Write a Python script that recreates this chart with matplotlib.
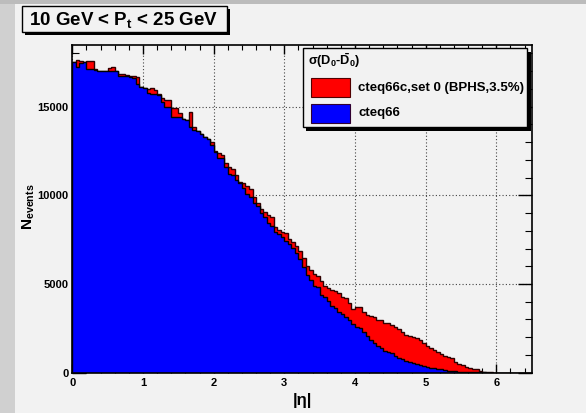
import matplotlib
matplotlib.use('Agg')
import matplotlib.pyplot as plt
import numpy as np
from matplotlib.patches import Rectangle
from matplotlib.ticker import MultipleLocator

plt.rcParams['font.family'] = ['Liberation Sans', 'DejaVu Sans']
plt.rcParams['font.weight'] = 'bold'
plt.rcParams['mathtext.fontset'] = 'custom'
plt.rcParams['mathtext.rm'] = 'Liberation Sans:bold'
plt.rcParams['mathtext.it'] = 'Liberation Sans:bold'
plt.rcParams['mathtext.bf'] = 'Liberation Sans:bold'

# ---- data (|eta| histogram, 130 bins of width 0.05 from 0 to 6.5) ----
eta_min, eta_max, n_bins = 0.0, 6.5, 130

cteq66 = [
    17530, 17250, 17480, 17500, 17120, 17120, 17080, 17020, 17000, 17000,
    17020, 17030, 17020, 16750, 16720, 16700, 16670, 16600, 16260, 16090,
    16060, 15750, 15720, 15700, 15680, 15280, 15000, 14990, 14430, 14420,
    14400, 14300, 14245, 13870, 13680, 13640, 13460, 13270, 13160, 12840,
    12460, 12085, 12085, 11580, 11200, 11145, 10860, 10675, 10400, 10070,
    9890, 9580, 9400, 9020, 8795, 8455, 8270, 7950, 7820, 7665,
    7400, 7250, 7030, 6750, 6400, 5950, 5500, 5200, 4900, 4815,
    4400, 4285, 4040, 3760, 3630, 3440, 3310, 3160, 2970, 2740,
    2590, 2500, 2300, 2050, 1845, 1650, 1530, 1400, 1250, 1180,
    1130, 940, 850, 755, 675, 620, 565, 490, 435, 390,
    340, 280, 250, 220, 190, 150, 120, 100, 80, 65,
    55, 50, 40, 35, 30, 20, 15, 10, 8, 5,
    3, 2, 1, 0, 0, 0, 0, 0, 0, 0,
]

cteq66c = [
    17530, 17630, 17560, 17500, 17590, 17590, 17100, 17020, 17000, 17000,
    17200, 17250, 17020, 16840, 16840, 16780, 16750, 16700, 16650, 16090,
    16060, 15975, 16030, 15950, 15700, 15470, 15370, 15370, 14900, 14900,
    14620, 14300, 14245, 14710, 13870, 13640, 13460, 13270, 13160, 13020,
    12500, 12400, 12270, 11840, 11580, 11465, 11140, 10770, 10675, 10500,
    10340, 9920, 9550, 9250, 9050, 8890, 8795, 8200, 8045, 7950,
    7890, 7520, 7350, 7150, 6850, 6450, 6015, 5790, 5565, 5450,
    5185, 4890, 4760, 4660, 4620, 4475, 4250, 4195, 3910, 3575,
    3720, 3700, 3440, 3250, 3195, 3160, 2990, 2970, 2800, 2785,
    2690, 2595, 2450, 2300, 2125, 2070, 2010, 1930, 1845, 1690,
    1505, 1420, 1300, 1185, 1055, 950, 870, 810, 620, 500,
    435, 340, 250, 220, 190, 115, 55, 35, 20, 10,
    5, 3, 0, 0, 0, 0, 0, 0, 0, 0,
]

title_text = r'10 GeV < P$_{t}$ < 25 GeV'
legend_header = r'σ(D$_{0}$-$\bar{\mathrm{D}}_{0}$)'
label_red = 'cteq66c,set 0 (BPHS,3.5%)'
label_blue = 'cteq66'
xlabel = '|η|'
ylabel = r'N$_{events}$'

W, H = 586, 413
bg = '#f2f2f2'

fig = plt.figure(figsize=(W / 100, H / 100), dpi=100, facecolor=bg)

def fx(x):
    return x / W

def fy(y):
    return 1 - y / H

# outer grey strips
fig.add_artist(Rectangle((0, 0), fx(15), 1, transform=fig.transFigure,
                         facecolor='#d0d0d0', edgecolor='none', zorder=0))
fig.add_artist(Rectangle((0, fy(4)), 1, 4 / H, transform=fig.transFigure,
                         facecolor='#bcbcbc', edgecolor='none', zorder=0))

ax_l, ax_r, ax_t, ax_b = 72.3, 531.7, 44.7, 372.7
ax = fig.add_axes([fx(ax_l), fy(ax_b), (ax_r - ax_l) / W, (ax_b - ax_t) / H])
ax.set_facecolor(bg)

edges = np.linspace(eta_min, eta_max, n_bins + 1)
ax.stairs(cteq66c, edges, fill=True, facecolor='#ff0000', edgecolor='none', zorder=2)
ax.stairs(cteq66c, edges, color='#300000', lw=1.0, zorder=3)
ax.stairs(cteq66, edges, fill=True, facecolor='#0000ff', edgecolor='none', zorder=4)
ax.stairs(cteq66, edges, color='black', lw=1.0, zorder=5)

ax.set_xlim(0, 6.5)
ax.set_ylim(0, 18490)

ax.xaxis.set_major_locator(MultipleLocator(1))
ax.xaxis.set_minor_locator(MultipleLocator(0.2))
ax.yaxis.set_major_locator(MultipleLocator(5000))
ax.yaxis.set_minor_locator(MultipleLocator(1000))

ax.grid(True, which='major', color='#444444', linestyle=(0, (1, 2)), lw=0.8, zorder=1)
ax.set_axisbelow(True)

ax.tick_params(which='both', direction='in', top=True, right=True, colors='black',
               labelsize=8)
ax.tick_params(axis='x', which='major', length=6.5, width=1.0, pad=4)
ax.tick_params(axis='x', which='minor', length=3.3, width=0.8)
ax.tick_params(axis='y', which='major', length=9.8, width=1.0, pad=2.5)
ax.tick_params(axis='y', which='minor', length=4.8, width=0.8)
for lab in ax.get_xticklabels() + ax.get_yticklabels():
    lab.set_fontweight('bold')

for sp in ax.spines.values():
    sp.set_linewidth(1.2)
    sp.set_zorder(10)

fig.text(fx(302), fy(400), xlabel, ha='center', va='center', fontsize=12,
         fontweight='bold')
fig.text(fx(29), fy(207), ylabel, ha='center', va='center', fontsize=11,
         fontweight='bold', rotation=90)

# title box with shadow
tb_x0, tb_y0, tb_x1, tb_y1 = 21.7, 6.0, 226.7, 32.3
fig.add_artist(Rectangle((fx(tb_x0 + 3), fy(tb_y1 + 2.5)), (tb_x1 - tb_x0) / W,
                         (tb_y1 - tb_y0) / H, transform=fig.transFigure,
                         facecolor='black', edgecolor='none', zorder=20))
fig.add_artist(Rectangle((fx(tb_x0), fy(tb_y1)), (tb_x1 - tb_x0) / W,
                         (tb_y1 - tb_y0) / H, transform=fig.transFigure,
                         facecolor=bg, edgecolor='black', lw=1.0, zorder=21))
fig.text(fx(123.5), fy(25), title_text, ha='center', va='baseline', fontsize=13.5,
         fontweight='bold', zorder=22)

# legend box with shadow
lb_x0, lb_y0, lb_x1, lb_y1 = 302.7, 48.3, 527.3, 127.3
fig.add_artist(Rectangle((fx(lb_x0 + 3.5), fy(lb_y1 + 3.5)), (lb_x1 - lb_x0) / W,
                         (lb_y1 - lb_y0) / H, transform=fig.transFigure,
                         facecolor='black', edgecolor='none', zorder=20))
fig.add_artist(Rectangle((fx(lb_x0), fy(lb_y1)), (lb_x1 - lb_x0) / W,
                         (lb_y1 - lb_y0) / H, transform=fig.transFigure,
                         facecolor=bg, edgecolor='black', lw=1.0, zorder=21))
fig.text(fx(308), fy(65.5), legend_header, ha='left', va='baseline', fontsize=9.2,
         fontweight='bold', zorder=22)
fig.add_artist(Rectangle((fx(310.7), fy(97.3)), (350 - 310.7) / W, 19 / H,
                         transform=fig.transFigure, facecolor='#ff0000',
                         edgecolor='#500000', lw=0.8, zorder=22))
fig.add_artist(Rectangle((fx(310.7), fy(123.3)), (350 - 310.7) / W, 19 / H,
                         transform=fig.transFigure, facecolor='#0000ff',
                         edgecolor='#300030', lw=0.8, zorder=22))
fig.text(fx(358.3), fy(88), label_red, ha='left', va='center', fontsize=9.5,
         fontweight='bold', zorder=22)
fig.text(fx(358.3), fy(113), label_blue, ha='left', va='center', fontsize=9.5,
         fontweight='bold', zorder=22)

fig.savefig('out.png', dpi=100, facecolor=bg)
